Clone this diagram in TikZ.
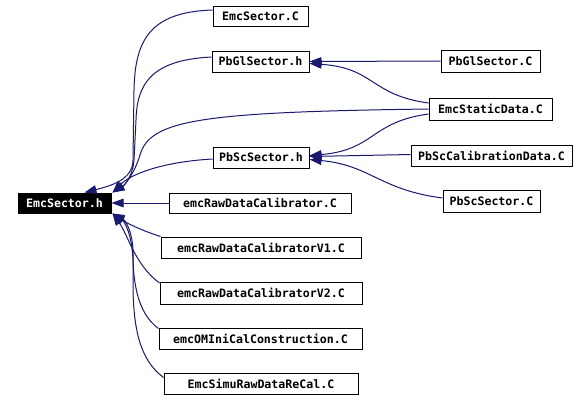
\documentclass[tikz,border=0pt]{standalone}
\usepackage{fontspec}
\newfontfamily\lblfont{DejaVu Sans Mono}
\usetikzlibrary{calc,arrows.meta}
\definecolor{edgeblue}{HTML}{191970}
\tikzset{
  file/.style={draw=black, line width=0.75pt, fill=white, inner sep=0pt,
    font=\lblfont\bfseries\fontsize{8.7pt}{10pt}\selectfont, text=black},
  hdr/.style={file, fill=black, text=white},
  edge/.style={draw=edgeblue, line width=0.75pt,
    -{Triangle[length=9pt,width=6.5pt]}}
}
\begin{document}
\begin{tikzpicture}[x=0.75pt,y=-0.75pt]
\useasboundingbox[fill=white] (0,0) rectangle (588,401);
% nodes
\node[hdr, minimum width=69.75pt, minimum height=15pt] (h) at (64.5,203) {EmcSector.h};
\node[file, minimum width=71.25pt, minimum height=15pt] (sC) at (260.5,16) {EmcSector.C};
\node[file, minimum width=72.75pt, minimum height=15.75pt] (pgh) at (260.5,61.5) {PbGlSector.h};
\node[file, minimum width=72pt, minimum height=15.75pt] (psh) at (261,157.5) {PbScSector.h};
\node[file, minimum width=136.5pt, minimum height=15pt] (raw) at (260,203) {emcRawDataCalibrator.C};
\node[file, minimum width=74.25pt, minimum height=16.5pt] (pgC) at (490.5,61) {PbGlSector.C};
\node[file, minimum width=92.25pt, minimum height=16.5pt] (esd) at (490.5,109) {EmcStaticData.C};
\node[file, minimum width=120.75pt, minimum height=15.75pt] (pscal) at (491.5,155.5) {PbScCalibrationData.C};
\node[file, minimum width=72.75pt, minimum height=16.5pt] (pscC) at (491.5,201) {PbScSector.C};
\node[file, minimum width=150pt, minimum height=15.75pt] (v1) at (261,247.5) {emcRawDataCalibratorV1.C};
\node[file, minimum width=151.5pt, minimum height=16.5pt] (v2) at (261,293) {emcRawDataCalibratorV2.C};
\node[file, minimum width=152.25pt, minimum height=15.75pt] (omi) at (260.5,338.5) {emcOMIniCalConstruction.C};
\node[file, minimum width=145.5pt, minimum height=15.75pt] (simu) at (261,383.5) {EmcSimuRawDataReCal.C};
% edges to PbGlSector.h
\draw[edge] (pgC.west) -- (pgh.east);
\draw[edge] ($(esd.west)+(0,-6)$) .. controls (370,95) and (375,68) .. ($(pgh.east)+(0,2)$);
% edges to PbScSector.h
\draw[edge] ($(pscal.west)+(0,-1)$) -- ($(psh.east)+(0,-1)$);
\draw[edge] ($(esd.west)+(0,5)$) .. controls (370,122) and (375,150) .. ($(psh.east)+(0,-2)$);
\draw[edge] ($(pscC.west)+(0,-3)$) .. controls (380,190) and (370,165) .. ($(psh.east)+(0,2)$);
% edges to EmcSector.h
\draw[edge] ($(sC.west)+(0,-6)$) .. controls (150,12) and (135,40) .. (134,90) -- (133,160)
  .. controls (133,180) and (110,186) .. ($(h.north)+(20,0)$);
\draw[edge] ($(pgh.west)+(0,-4.5)$) .. controls (150,60) and (137,85) .. (136,120) -- (134,160)
  .. controls (133,175) and (125,185) .. ($(h.north east)+(1,0)$);
\draw[edge] (esd.west) .. controls (200,112) and (150,120) .. (140,155)
  .. controls (135,172) and (125,185) .. ($(h.north east)+(1,0)$);
\draw[edge] ($(psh.west)+(0,1.5)$) .. controls (160,162) and (130,175) .. ($(h.north east)+(1,0)$);
\draw[edge] (raw.west) -- (h.east);
\draw[edge] (v1.north west) .. controls (140,230) and (125,222) .. ($(h.south east)+(1,0)$);
\draw[edge] ($(v2.west)+(0,-10)$) .. controls (135,265) and (128,235) .. ($(h.south east)+(1,0)$);
\draw[edge] ($(omi.west)+(0,-10)$) .. controls (140,315) and (134,290) .. (133,260)
  .. controls (132,235) and (125,222) .. ($(h.south east)+(1,0)$);
\draw[edge] ($(simu.west)+(0,-6)$) .. controls (140,360) and (134,330) .. (133,290) -- (133,250)
  .. controls (132,230) and (125,220) .. ($(h.south east)+(1,0)$);
\end{tikzpicture}
\end{document}
